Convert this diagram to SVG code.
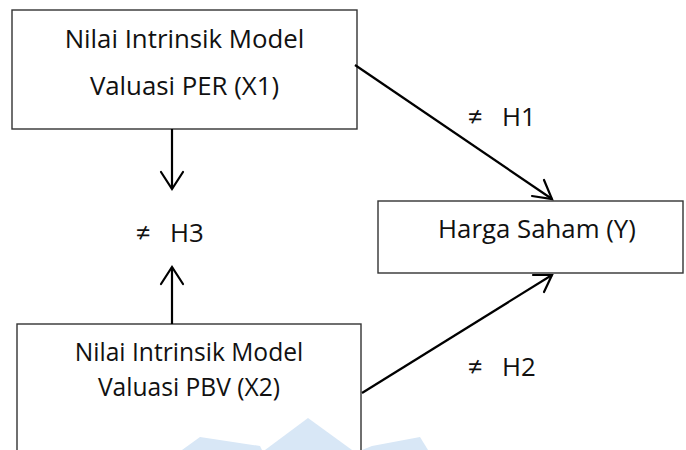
<svg xmlns="http://www.w3.org/2000/svg" width="686" height="450" viewBox="0 0 686 450">
<style>
.box{fill:#fff;stroke:#333;stroke-width:1.4}
.t{font-family:"Open Sans","Noto Sans",sans-serif;font-size:25.8px;fill:#111;text-anchor:middle}
.t2{font-size:24.6px}
.s{text-anchor:start}
.c{stroke:#000;stroke-width:2.2;fill:none}
.ah{stroke:#000;stroke-width:2.2;fill:none;stroke-linecap:round;stroke-linejoin:miter}
</style>
<rect width="686" height="450" fill="#fff"/>
<g id="watermark" fill="#d8e7f6">
<polygon points="308,418 352,450 265,450"/>
<polygon points="182,450 200,437 260,446 262,450"/>
<polygon points="372,446 420,437 428,450 362,450"/>
</g>
<g id="node-x2">
<rect class="box" x="17" y="324" width="344" height="140" style="fill:none"/>
<text class="t t2" x="189" y="361">Nilai Intrinsik Model</text>
<text class="t t2" x="189" y="395.5">Valuasi PBV (X2)</text>
</g>
<g id="node-x1">
<rect class="box" x="12" y="10" width="345" height="119"/>
<text class="t" x="184.5" y="48">Nilai Intrinsik Model</text>
<text class="t" x="184.5" y="95">Valuasi PER (X1)</text>
</g>
<g id="node-y">
<rect class="box" x="378" y="201" width="305" height="72"/>
<text class="t" x="537" y="238">Harga Saham (Y)</text>
</g>
<g id="connectors">
<line class="c" x1="172" y1="129" x2="172" y2="189"/>
<polyline class="ah" points="161,172 172,189 183,172"/>
<line class="c" x1="172" y1="324" x2="172" y2="267"/>
<polyline class="ah" points="161,284 172,267 183,284"/>
<line class="c" x1="355" y1="65" x2="552" y2="199"/>
<polyline class="ah" points="532,196 552,199 544,180"/>
<line class="c" x1="362" y1="393" x2="552" y2="275"/>
<polyline class="ah" points="533,275 552,275 544,292"/>
</g>
<g id="labels">
<text class="t s" x="468" y="126">≠</text><text class="t s" x="502" y="126">H1</text>
<text class="t s" x="136" y="242">≠</text><text class="t s" x="170" y="242">H3</text>
<text class="t s" x="468" y="376">≠</text><text class="t s" x="502" y="376">H2</text>
</g>
</svg>
